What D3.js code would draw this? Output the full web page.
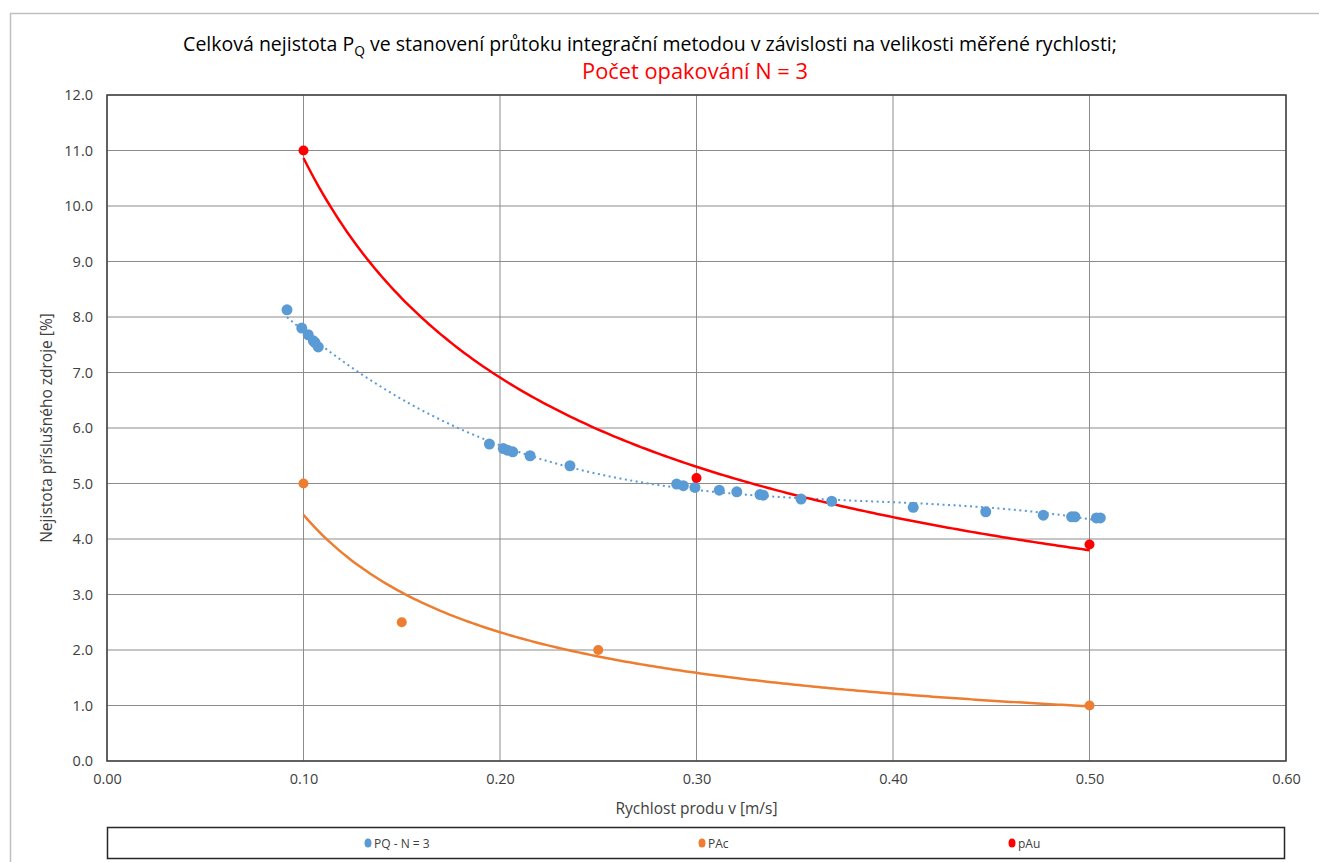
<!DOCTYPE html>
<html>
<head>
<meta charset="utf-8">
<script src="https://cdn.jsdelivr.net/npm/d3@7"></script>
<style>
  html, body { margin: 0; padding: 0; background: #fff; }
  svg { display: block; }
  text { font-family: "Open Sans", "Noto Sans", sans-serif; }
</style>
</head>
<body>
<svg id="chart" width="1319" height="862"></svg>
<script>
// ---- data ----
const pqX = [0.0916, 0.0991, 0.1024, 0.1050, 0.1059, 0.1075, 0.1946, 0.2017, 0.2037, 0.2065, 0.2153, 0.2356,
             0.2899, 0.2933, 0.2992, 0.3116, 0.3205, 0.3323, 0.3340, 0.3532, 0.3688, 0.4103, 0.4472, 0.4765,
             0.4909, 0.4926, 0.5035, 0.5055];
const pqY = [8.13, 7.80, 7.68, 7.57, 7.54, 7.46, 5.71, 5.63, 5.60, 5.57, 5.50, 5.32,
             4.99, 4.96, 4.93, 4.88, 4.85, 4.80, 4.79, 4.72, 4.68, 4.57, 4.49, 4.43,
             4.40, 4.40, 4.38, 4.38];
const pacX = [0.10, 0.15, 0.25, 0.50];
const pacY = [5.0, 2.5, 2.0, 1.0];
const pauX = [0.10, 0.30, 0.50];
const pauY = [11.0, 5.1, 3.9];
const xTicks = [0, 0.1, 0.2, 0.3, 0.4, 0.5, 0.6];
const yTicks = [0, 1, 2, 3, 4, 5, 6, 7, 8, 9, 10, 11, 12];
const legendLabels = ["PQ - N = 3", "PAc", "pAu"];
const titleLine1 = ["Celková nejistota P", "Q", " ve stanovení průtoku integrační metodou v závislosti na velikosti měřené rychlosti;"];
const titleLine2 = "Počet opakování N = 3";
const xTitle = "Rychlost produ v [m/s]";
const yTitle = "Nejistota příslušného zdroje [%]";

// ---- trendline helpers (Excel-style least squares fits) ----
function powerFit(xs, ys) {
  const lx = xs.map(Math.log), ly = ys.map(Math.log);
  const mx = d3.mean(lx), my = d3.mean(ly);
  let sxy = 0, sxx = 0;
  lx.forEach((v, i) => { sxy += (v - mx) * (ly[i] - my); sxx += (v - mx) ** 2; });
  const b = sxy / sxx, a = Math.exp(my - b * mx);
  return x => a * Math.pow(x, b);
}
function polyFit(xs, ys, order) {
  const n = order + 1;
  const A = Array.from({length: n}, () => new Array(n + 1).fill(0));
  xs.forEach((x, k) => {
    for (let i = 0; i < n; i++) {
      for (let j = 0; j < n; j++) A[i][j] += Math.pow(x, i + j);
      A[i][n] += ys[k] * Math.pow(x, i);
    }
  });
  for (let c = 0; c < n; c++) {
    let p = c;
    for (let r = c + 1; r < n; r++) if (Math.abs(A[r][c]) > Math.abs(A[p][c])) p = r;
    [A[c], A[p]] = [A[p], A[c]];
    for (let r = 0; r < n; r++) {
      if (r === c) continue;
      const f = A[r][c] / A[c][c];
      for (let j = c; j <= n; j++) A[r][j] -= f * A[c][j];
    }
  }
  const coef = A.map((row, i) => row[n] / row[i]);
  return x => coef.reduce((s, c, i) => s + c * Math.pow(x, i), 0);
}
function sampleFit(f, x0, x1) {
  return d3.range(0, 201).map(i => { const x = x0 + (x1 - x0) * i / 200; return [x, f(x)]; });
}

// ---- layout ----
const svg = d3.select("#chart");
const L = 107, T = 95, R = 1286, B = 761;
const x = d3.scaleLinear().domain([0, 0.6]).range([L, R]);
const y = d3.scaleLinear().domain([0, 12]).range([B, T]);

// outer chart border
svg.append("rect").attr("x", 10.5).attr("y", 13.5).attr("width", 1330).attr("height", 900)
  .attr("fill", "none").attr("stroke", "#BFBFBF").attr("stroke-width", 1.5);

// gridlines
svg.append("g").selectAll("line").data(yTicks).join("line")
  .attr("x1", L).attr("x2", R).attr("y1", d => y(d)).attr("y2", d => y(d))
  .attr("stroke", "#8C8C8C").attr("stroke-width", 1);
svg.append("g").selectAll("line").data(xTicks).join("line")
  .attr("y1", T).attr("y2", B).attr("x1", d => x(d)).attr("x2", d => x(d))
  .attr("stroke", "#8C8C8C").attr("stroke-width", 1);

// plot border
svg.append("rect").attr("x", L).attr("y", T).attr("width", R - L).attr("height", B - T)
  .attr("fill", "none").attr("stroke", "#404040").attr("stroke-width", 1.5);

// axes (labels only)
const yAxis = svg.append("g").attr("transform", `translate(${L},0)`)
  .call(d3.axisLeft(y).tickValues(yTicks).tickFormat(d3.format(".1f")).tickSize(0).tickPadding(14));
const xAxis = svg.append("g").attr("transform", `translate(0,${B})`)
  .call(d3.axisBottom(x).tickValues(xTicks).tickFormat(d3.format(".2f")).tickSize(0).tickPadding(13));
[yAxis, xAxis].forEach(g => {
  g.select(".domain").remove();
  g.selectAll("text").attr("font-family", "Open Sans, sans-serif").attr("font-size", 14.5).attr("fill", "#404040");
});

// axis titles
svg.append("text").attr("x", (L + R) / 2).attr("y", 814).attr("text-anchor", "middle")
  .attr("font-size", 15.5).attr("fill", "#404040").text(xTitle);
svg.append("text").attr("transform", `translate(52,${(T + B) / 2}) rotate(-90)`).attr("text-anchor", "middle")
  .attr("font-size", 15.5).attr("fill", "#404040").text(yTitle);

// title
const t1 = svg.append("text").attr("x", 650).attr("y", 51).attr("text-anchor", "middle")
  .attr("font-size", 17).attr("fill", "#000");
t1.append("tspan").text(titleLine1[0]);
t1.append("tspan").attr("dy", 5).attr("font-size", 12).text(titleLine1[1]);
t1.append("tspan").attr("dy", -5).text(titleLine1[2]);
const w1 = t1.node().getComputedTextLength();
if (w1 > 0) {
  const s = 934 / w1;
  t1.attr("font-size", 17 * s);
  t1.selectAll("tspan").filter((d, i) => i === 1).attr("font-size", 12 * s);
}
const t2 = svg.append("text").attr("x", 695).attr("y", 79).attr("text-anchor", "middle")
  .attr("font-size", 17).attr("fill", "#FF0000").text(titleLine2);
const w2 = t2.node().getComputedTextLength();
if (w2 > 0) t2.attr("font-size", 17 * 226 / w2);

// trendlines
const line = d3.line().x(d => x(d[0])).y(d => y(d[1])).curve(d3.curveLinear);
const pqFit = polyFit(pqX, pqY, 3);
svg.append("path").datum(sampleFit(pqFit, d3.min(pqX), d3.max(pqX))).attr("d", line)
  .attr("fill", "none").attr("stroke", "#5B9BD5").attr("stroke-width", 2).attr("stroke-dasharray", "2,3.5");
const pacFit = powerFit(pacX, pacY);
svg.append("path").datum(sampleFit(pacFit, d3.min(pacX), d3.max(pacX))).attr("d", line)
  .attr("fill", "none").attr("stroke", "#ED7D31").attr("stroke-width", 2.5);
const pauFit = powerFit(pauX, pauY);
svg.append("path").datum(sampleFit(pauFit, d3.min(pauX), d3.max(pauX))).attr("d", line)
  .attr("fill", "none").attr("stroke", "#FF0000").attr("stroke-width", 2.5);

// points
function dots(xs, ys, color, r) {
  svg.append("g").selectAll("circle").data(xs.map((v, i) => [v, ys[i]])).join("circle")
    .attr("cx", d => x(d[0])).attr("cy", d => y(d[1])).attr("r", r).attr("fill", color);
}
dots(pqX, pqY, "#5B9BD5", 5.5);
dots(pacX, pacY, "#ED7D31", 5);
dots(pauX, pauY, "#FF0000", 5);

// legend
svg.append("rect").attr("x", 107.5).attr("y", 827.5).attr("width", 1177).attr("height", 31)
  .attr("fill", "#fff").attr("stroke", "#262626").attr("stroke-width", 1.5);
const legColors = ["#5B9BD5", "#ED7D31", "#FF0000"];
const legX = [368, 702, 1012];
legendLabels.forEach((lab, i) => {
  svg.append("ellipse").attr("cx", legX[i]).attr("cy", 843).attr("rx", 3.5).attr("ry", 4.5).attr("fill", legColors[i]);
  svg.append("text").attr("x", legX[i] + 6).attr("y", 847.5).attr("font-size", 12).attr("fill", "#404040").text(lab);
});
</script>
</body>
</html>
